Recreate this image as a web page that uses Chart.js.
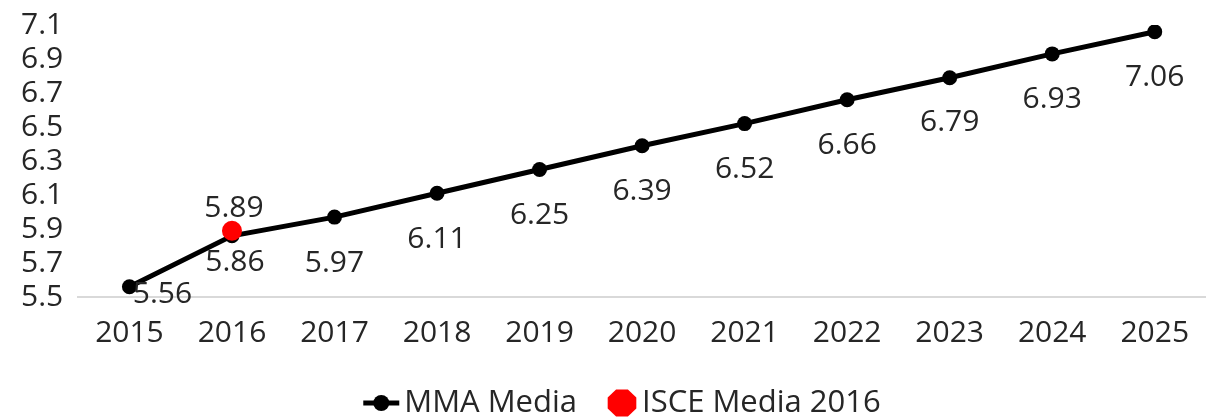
<!DOCTYPE html>
<html>
<head>
<meta charset="utf-8">
<script src="https://cdn.jsdelivr.net/npm/chart.js@4.4.1/dist/chart.umd.min.js"></script>
<style>
  html, body { margin: 0; padding: 0; background: #fff; }
  #wrap { width: 1206px; height: 418px; }
</style>
</head>
<body>
<div id="wrap"><canvas id="chart"></canvas></div>
<script>
// ─── Data ─────────────────────────────────────────────

const YEARS = ['2015', '2016', '2017', '2018', '2019', '2020', '2021', '2022', '2023', '2024', '2025'];
const MMA_MEDIA = [5.56, 5.86, 5.97, 6.11, 6.25, 6.39, 6.52, 6.66, 6.79, 6.93, 7.06];
const ISCE_2016 = [null, 5.89, null, null, null, null, null, null, null, null, null];
const Y_MIN = 5.5, Y_MAX = 7.1, Y_STEP = 0.2;

const FONT = '"Open Sans", "Liberation Sans", sans-serif';
const TXT = '#262626';
const FS = 30;

// label nudges (dx, dy from the point) — excel moved a couple of them
const LABEL_NUDGE = [[33, 8], [3, 27], [0, 46], [0, 46], [0, 46], [0, 46], [0, 46], [0, 46], [0, 45], [0, 46], [0, 46]];

// ─── Data labels ──────────────────────────────────────

const valueLabels = {
  id: 'valueLabels',
  afterDatasetsDraw(chart) {
    const ctx = chart.ctx;
    ctx.save();
    ctx.font = FS + 'px ' + FONT;
    ctx.fillStyle = TXT;
    ctx.textAlign = 'center';
    ctx.textBaseline = 'middle';
    chart.getDatasetMeta(0).data.forEach((pt, i) => {
      const [dx, dy] = LABEL_NUDGE[i];
      ctx.fillText(MMA_MEDIA[i].toFixed(2), pt.x + dx, pt.y + dy);
    });
    chart.getDatasetMeta(1).data.forEach((pt, i) => {
      if (ISCE_2016[i] == null) return;
      ctx.fillText(ISCE_2016[i].toFixed(2), pt.x + 2, pt.y - 22);
    });
    ctx.restore();
  }
};

// ─── Legend (excel style: line+marker / octagon) ──────

const bottomLegend = {
  id: 'bottomLegend',
  afterDraw(chart) {
    const ctx = chart.ctx;
    const ds = chart.data.datasets;
    const y = 403;
    ctx.save();
    ctx.font = '31px ' + FONT;
    ctx.textBaseline = 'middle';
    ctx.textAlign = 'left';
    const w0 = ctx.measureText(ds[0].label).width;
    const w1 = ctx.measureText(ds[1].label).width;
    const total = 36 + 5 + w0 + 30 + 30 + 5 + w1;
    let x = 622 - total / 2;

    // line + circle
    ctx.strokeStyle = ds[0].borderColor;
    ctx.lineWidth = 5;
    ctx.beginPath(); ctx.moveTo(x, y); ctx.lineTo(x + 36, y); ctx.stroke();
    ctx.fillStyle = ds[0].borderColor;
    ctx.beginPath(); ctx.arc(x + 18, y, 8, 0, Math.PI * 2); ctx.fill();
    x += 41;
    ctx.fillStyle = TXT;
    ctx.fillText(ds[0].label, x, y);
    x += w0 + 30;

    // octagon
    ctx.fillStyle = ds[1].backgroundColor;
    ctx.beginPath();
    for (let i = 0; i < 8; i++) {
      const a = Math.PI / 8 + i * Math.PI / 4;
      const px = x + 15 + 15.5 * Math.cos(a), py = y + 14.5 * Math.sin(a);
      i ? ctx.lineTo(px, py) : ctx.moveTo(px, py);
    }
    ctx.closePath(); ctx.fill();
    x += 35;
    ctx.fillStyle = TXT;
    ctx.fillText(ds[1].label, x, y);
    ctx.restore();
  }
};

// ─── Chart ────────────────────────────────────────────

new Chart(document.getElementById('chart'), {
  type: 'line',
  data: {
    labels: YEARS,
    datasets: [
      {
        label: 'MMA Media',
        data: MMA_MEDIA,
        borderColor: '#000',
        backgroundColor: '#000',
        borderWidth: 5,
        pointRadius: 7.5,
        pointBackgroundColor: '#000',
        pointBorderWidth: 0,
        tension: 0,
        order: 2,
      },
      {
        label: 'ISCE Media 2016',
        data: ISCE_2016,
        showLine: false,
        borderColor: '#ff0000',
        backgroundColor: '#ff0000',
        pointRadius: 10,
        pointBorderWidth: 0,
        order: 1,
      },
    ],
  },
  options: {
    responsive: true,
    maintainAspectRatio: false,
    animation: false,
    layout: { autoPadding: false, padding: { top: 25, right: 0, left: 6, bottom: 49 } },
    scales: {
      x: {
        offset: true,
        grid: { display: false, drawTicks: false },
        border: { display: true, color: '#d9d9d9', width: 2 },
        ticks: { color: TXT, font: { size: FS, family: FONT }, padding: 18, maxRotation: 0, autoSkip: false },
        afterFit: s => { s.paddingLeft = 0; s.paddingRight = 0; },
      },
      y: {
        min: Y_MIN,
        max: Y_MAX,
        grid: { display: false, drawTicks: false },
        border: { display: false },
        ticks: {
          stepSize: Y_STEP,
          autoSkip: false,
          color: TXT,
          font: { size: FS, family: FONT },
          padding: 15,
          callback: v => v.toFixed(1),
        },
        afterFit: s => { s.paddingTop = 0; s.paddingBottom = 0; },
      },
    },
    plugins: {
      legend: { display: false },
      tooltip: { enabled: false },
    },
  },
  plugins: [valueLabels, bottomLegend],
});
</script>
</body>
</html>
